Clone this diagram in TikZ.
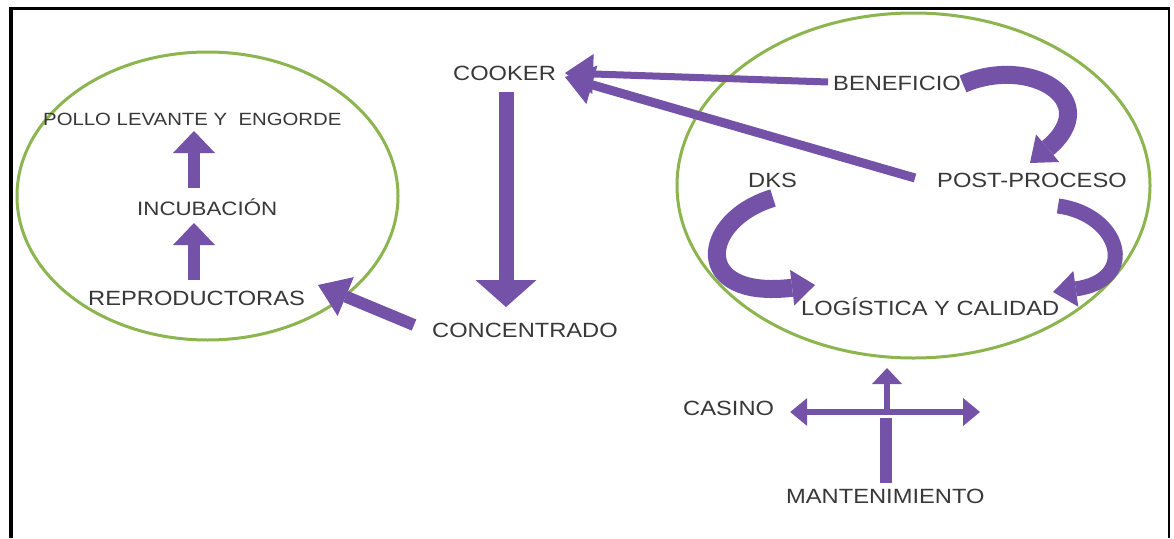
\documentclass[tikz,border=0pt]{standalone}
\usepackage{fontspec}
\setmainfont[FakeStretch=1.15]{Liberation Sans}
\usetikzlibrary{arrows.meta,calc}
\definecolor{grn}{HTML}{8CB550}
\definecolor{pur}{HTML}{7352A8}
\definecolor{txt}{HTML}{383838}
\begin{document}
\begin{tikzpicture}[x=1pt,y=-1pt,
  lbl/.style={font=\fontsize{20.6}{24}\selectfont, text=txt, inner sep=0pt, anchor=base west},
  ring/.style={draw=grn, line width=3pt},
  frame/.style={draw=black},
  parrow/.style={color=pur, line width=#1},
  bigdown/.style={parrow=15pt, -{Triangle[length=27pt,width=61pt,line width=0pt]}},
  longarr/.style={parrow=#1, -{Triangle[length=28pt,width=40pt,line width=0pt]}},
  medarr/.style={parrow=12pt, -{Triangle[length=30pt,width=42pt,line width=0pt]}},
  uparr/.style={parrow=12pt, -{Triangle[length=22pt,width=42pt,line width=0pt]}},
  curvarr/.style={parrow=#1, -{Triangle[length=23pt,width=36pt,line width=0pt]}},
  thinarr/.style={parrow=6pt, -{Triangle[length=16pt,width=30pt,line width=0pt]}},
  dblarr/.style={parrow=6pt, {Triangle[length=17pt,width=28pt,line width=0pt]}-{Triangle[length=17pt,width=28pt,line width=0pt]}},
  barline/.style={parrow=12pt}
]
\useasboundingbox (0,0) rectangle (1174,538);
\fill[white] (0,0) rectangle (1174,538);

% frame
\draw[frame, line width=4pt] (10.5,538) -- (10.5,8.5);
\draw[frame, line width=3pt] (9,8.5) -- (1170,8.5);
\draw[frame, line width=2pt] (1169,8) -- (1169,538);

% groups
\draw[ring] (207.5,196) ellipse [x radius=190.5pt, y radius=144pt];
\draw[ring] (913.5,185.5) ellipse [x radius=236.5pt, y radius=172.5pt];

% labels
\node[lbl] (cooker) at (453,80) {COOKER};
\node[lbl] (conc) at (432,337) {CONCENTRADO};
\node[lbl, font=\fontsize{17.7}{20}\selectfont] (pollo) at (43,125) {POLLO LEVANTE Y~ ENGORDE};
\node[lbl, font=\fontsize{19.4}{22}\selectfont] (incub) at (137,215) {INCUBACIÓN};
\node[lbl] (repro) at (88,305) {REPRODUCTORAS};
\node[lbl] (benef) at (833,90) {BENEFICIO};
\node[lbl] (post) at (937,187) {POST-PROCESO};
\node[lbl] (dks) at (748,187) {DKS};
\node[lbl] (log) at (801,315) {LOGÍSTICA Y CALIDAD};
\node[lbl] (casino) at (683,415) {CASINO};
\node[lbl] (mant) at (786,503) {MANTENIMIENTO};
\coordinate (xr) at (980,412);

% straight connectors
\draw[bigdown] ($(cooker.base west)+(53,12)$) -- ($(conc.base west)+(74,-30)$);
\draw[longarr=7pt] ($(benef.base west)+(-5,-8)$) -- ($(cooker.base west)+(112,-7)$);
\draw[longarr=9pt] ($(post.base west)+(-22,-9)$) -- ($(cooker.base west)+(112,-3)$);
\draw[medarr] ($(conc.base west)+(-18,-12)$) -- ($(repro.base west)+(230,-20)$);
\draw[uparr] ($(repro.base west)+(106,-25)$) -- ($(incub.base west)+(57,8)$);
\draw[uparr] ($(incub.base west)+(57,-27)$) -- ($(pollo.base west)+(151,6)$);

% curved connectors
\draw[curvarr=18pt] ($(benef.base west)+(130,-6)$) .. controls +(67,-29) and +(75,-63) .. ($(post.base west)+(93,-24)$);
\draw[curvarr=15pt] ($(post.base west)+(121,19)$) .. controls +(62,8) and +(87,-12) .. ($(log.base west)+(252,-23)$);
\draw[curvarr=18pt] ($(dks.base west)+(25,11)$) .. controls +(-73,22) and +(-125,15) .. ($(log.base west)+(14,-30)$);

% cross
\draw[dblarr] ($(casino.base east)+(16,-3)$) -- (xr);
\draw[barline] ($(mant.base west)+(100,-20)$) -- ($(mant.base west)+(100,-85)$);
\draw[thinarr] ($(mant.base west)+(101,-91)$) -- ($(log.base west)+(86,53)$);
\end{tikzpicture}
\end{document}
